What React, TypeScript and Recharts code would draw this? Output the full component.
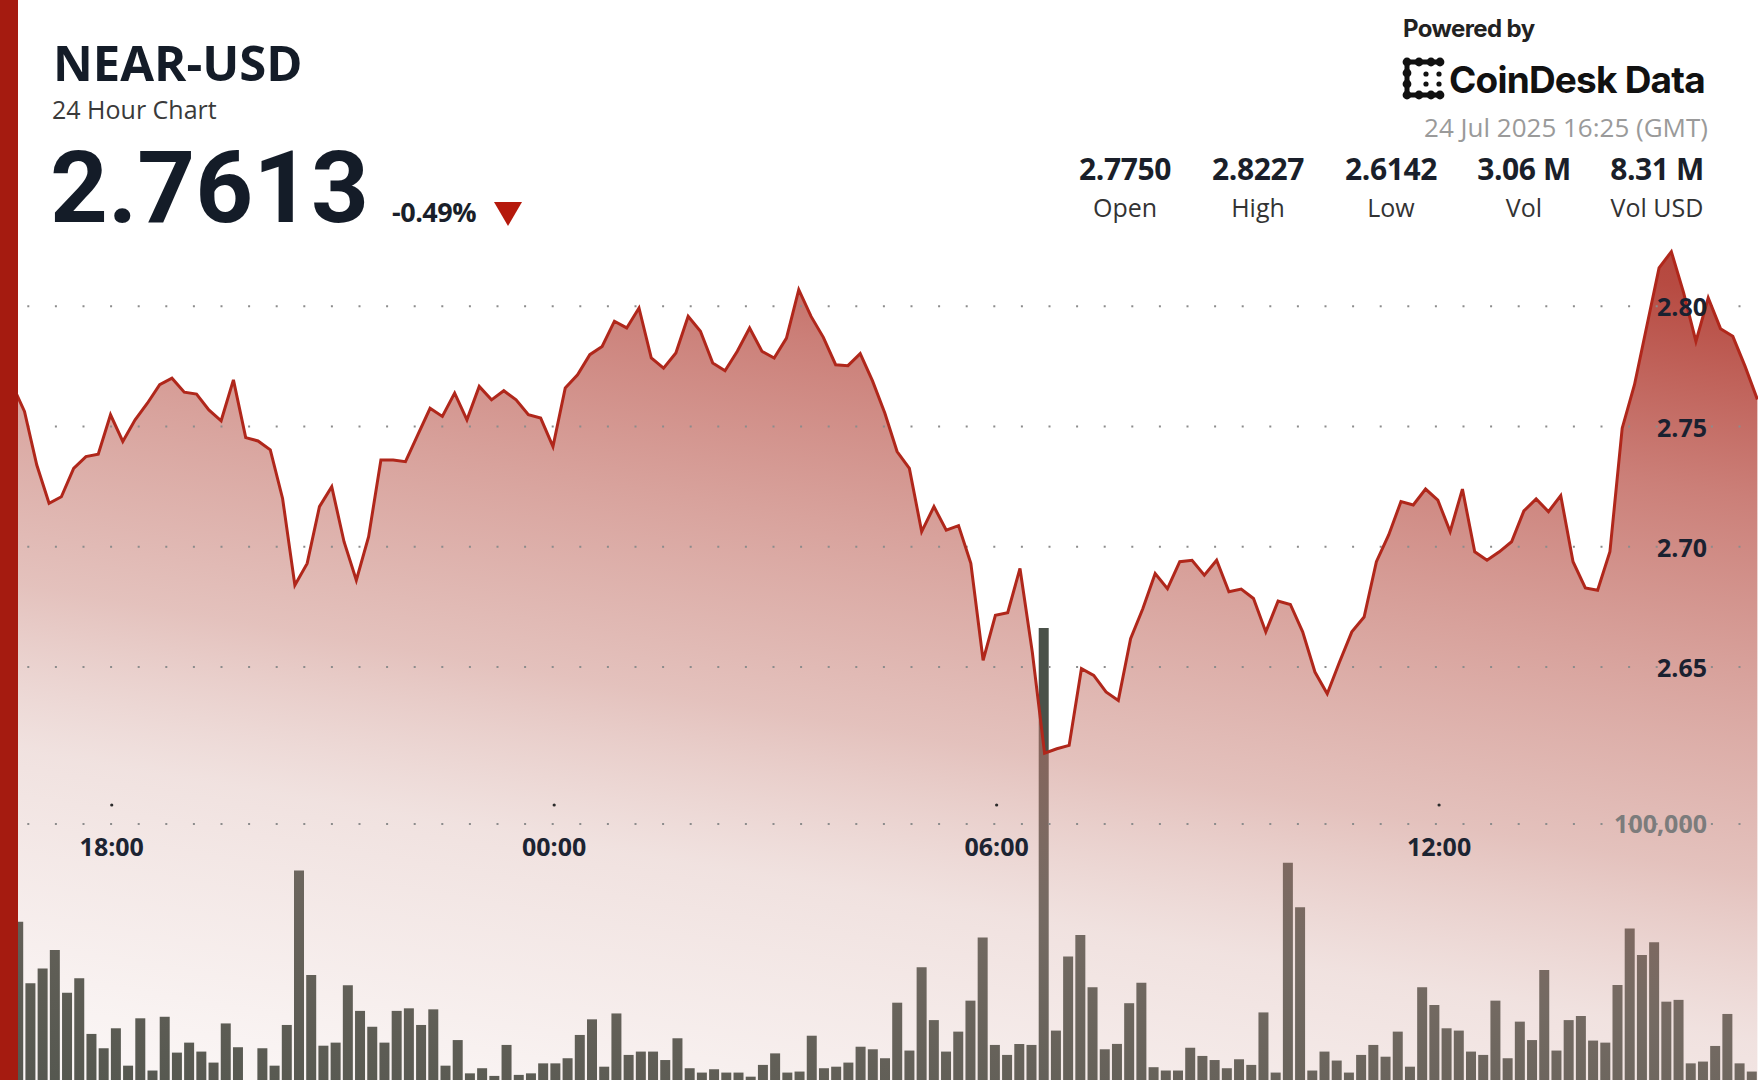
import React from 'react';
import { ComposedChart, BarChart, Bar, Area, Line, XAxis, YAxis, ReferenceLine } from 'recharts';

// 10-minute closes, first point sits just under the left red bar
const prices = [
  2.7674, 2.7563, 2.7340, 2.7181, 2.7208, 2.7326, 2.7375, 2.7385, 2.7549, 2.7438,
  2.7528, 2.7597, 2.7674, 2.7701, 2.7643, 2.7635, 2.7569, 2.7524, 2.7694, 2.7454,
  2.7440, 2.7403, 2.7201, 2.6840, 2.6931, 2.7167, 2.7250, 2.7021, 2.6861, 2.7042,
  2.7361, 2.7361, 2.7354, 2.7465, 2.7576, 2.7542, 2.7639, 2.7528, 2.7667, 2.7611,
  2.7649, 2.7611, 2.7549, 2.7535, 2.7417, 2.7660, 2.7715, 2.7799, 2.7833, 2.7938,
  2.7910, 2.7993, 2.7785, 2.7743, 2.7806, 2.7958, 2.7896, 2.7764, 2.7732, 2.7813,
  2.7910, 2.7813, 2.7785, 2.7868, 2.8069, 2.7958, 2.7871, 2.7757, 2.7753, 2.7803,
  2.7690, 2.7556, 2.7396, 2.7326, 2.7063, 2.7167, 2.7069, 2.7088, 2.6931, 2.6528,
  2.6715, 2.6726, 2.6910, 2.6563, 2.6142, 2.6160, 2.6174, 2.6493, 2.6465, 2.6396,
  2.6361, 2.6618, 2.6743, 2.6889, 2.6826, 2.6938, 2.6944, 2.6882, 2.6944, 2.6813,
  2.6824, 2.6785, 2.6646, 2.6774, 2.6760, 2.6646, 2.6479, 2.6389, 2.6521, 2.6646,
  2.6708, 2.6938, 2.7049, 2.7188, 2.7174, 2.7240, 2.7194, 2.7063, 2.7240, 2.6979,
  2.6944, 2.6979, 2.7021, 2.7149, 2.7199, 2.7146, 2.7213, 2.6938, 2.6829, 2.6819,
  2.6979, 2.7493, 2.7674, 2.7917, 2.8160, 2.8227, 2.8056, 2.7854, 2.8035, 2.7907,
  2.7875, 2.7750, 2.7613,
];

const volumes = [
  45000, 61800, 37800, 43600, 50800, 34100, 39700, 18000, 12400, 20200,
  5600, 24100, 3700, 24700, 10700, 14600, 11100, 6800, 22100, 12800,
  0, 12400, 5600, 21500, 81800, 41000, 13400, 14600, 37000, 27000,
  20800, 14600, 27000, 28000, 21500, 27600, 5600, 15600, 2600, 4600,
  1600, 13700, 2000, 2600, 6500, 6500, 8500, 17600, 23700, 5200,
  26000, 9800, 11100, 11100, 7800, 16300, 4600, 2900, 4200, 2900,
  2900, 1300, 5900, 10400, 2900, 3300, 17300, 4600, 5200, 6800,
  13000, 12000, 8500, 30200, 11500, 44000, 23400, 11100, 18900, 31000,
  55700, 13700, 9800, 14100, 13700, 176600, 19300, 48200, 56600, 36200,
  12000, 14100, 30000, 38000, 5000, 3700, 3700, 12600, 9400, 7800,
  4600, 8100, 5900, 26400, 2900, 84900, 67500, 3700, 11100, 7600,
  2900, 9800, 13700, 9100, 18900, 5200, 36200, 29300, 20200, 19300,
  11100, 9800, 31000, 8500, 22800, 15600, 43000, 11500, 23400, 25000,
  15400, 14600, 37100, 59200, 48800, 53800, 30600, 31300, 6500, 7200,
  13300, 25800, 6500, 3300,
];

const priceTicks = [2.65, 2.7, 2.75, 2.8];
const volumeTicks = [100000];
const timeTickPos = [7.1, 43.1, 79.1, 115.1];
const timeTickLabels = ['18:00', '00:00', '06:00', '12:00'];

const statValues = ['2.7750', '2.8227', '2.6142', '3.06 M', '8.31 M'];
const statLabels = ['Open', 'High', 'Low', 'Vol', 'Vol USD'];

const W = 1758;
const H = 1080;
const FONT = "'Open Sans', 'Noto Sans', sans-serif";
const BRAND = "Inter, Roboto, sans-serif";

const priceData = prices.map((p, i) => ({ k: i - 1, price: p }));
const volumeData = volumes.map((v, i) => ({ j: i, vol: v }));

const TimeTick = (props: any) => {
  const { x, index } = props;
  return (
    <g>
      <circle cx={x} cy={805} r={1.6} fill="#2b2b2b" />
      <text x={x} y={856} textAnchor="middle" fontFamily={FONT} fontSize={25} fontWeight={700} fill="#1c2432">
        {timeTickLabels[index]}
      </text>
    </g>
  );
};

const PriceTick = (props: any) => {
  const { y, payload } = props;
  return (
    <text x={1707} y={y + 10} textAnchor="end" fontFamily={FONT} fontSize={25} fontWeight={700} fill="#1a2130">
      {Number(payload.value).toFixed(2)}
    </text>
  );
};

const VolTick = (props: any) => {
  const { y, payload } = props;
  return (
    <text x={1707} y={y + 9} textAnchor="end" fontFamily={FONT} fontSize={25} fontWeight={700} fill="#7c7c7c">
      {Number(payload.value).toLocaleString('en-US')}
    </text>
  );
};

const LogoMark = () => (
  <g fill="#111">
    <rect x={1405} y={59.5} width={35} height={5} />
    <rect x={1405} y={92.5} width={35} height={5} />
    <rect x={1404.5} y={60} width={5} height={37} />
    {[1407, 1419, 1431, 1440].map((cx) => (
      <circle key={`t${cx}`} cx={cx} cy={62} r={4.4} />
    ))}
    {[1407, 1419, 1431, 1440].map((cx) => (
      <circle key={`b${cx}`} cx={cx} cy={95} r={4.4} />
    ))}
    {[73, 84].map((cy) => (
      <circle key={`l${cy}`} cx={1407} cy={cy} r={4.4} />
    ))}
    <circle cx={1426} cy={74} r={2.6} />
    <circle cx={1426} cy={84} r={2.6} />
    <circle cx={1439} cy={74} r={2.6} />
    <circle cx={1439} cy={84} r={2.6} />
  </g>
);

const Header = () => (
  <svg width={W} height={H} style={{ position: 'absolute', left: 0, top: 0, pointerEvents: 'none' }}>
    <text x={53} y={81} fontFamily={FONT} fontSize={49} fontWeight={700} fill="#141c28">NEAR-USD</text>
    <text x={52} y={119} fontFamily={FONT} fontSize={25} fill="#3a3a3a">24 Hour Chart</text>
    <text x={50} y={222} fontFamily="Roboto, 'Open Sans', sans-serif" fontSize={101} fontWeight={700} fill="#141c28">2.7613</text>
    <text x={392} y={222} fontFamily={FONT} fontSize={27} fontWeight={700} fill="#1a1f2a" letterSpacing={-0.5}>-0.49%</text>
    <polygon points="494,202 522,202 508,226" fill="#b5190c" />

    <text x={1403} y={37} fontFamily={BRAND} fontSize={24} fontWeight={700} fill="#222" letterSpacing={-0.6}>Powered by</text>
    <LogoMark />
    <text x={1449} y={93} fontFamily={BRAND} fontSize={37} fontWeight={700} fill="#111" letterSpacing={-0.8}>CoinDesk Data</text>
    <text x={1708} y={137} textAnchor="end" fontFamily={FONT} fontSize={26} fill="#9a9a9a">24 Jul 2025 16:25 (GMT)</text>

    {statValues.map((v, i) => (
      <text key={v} x={1125 + i * 133} y={180} textAnchor="middle" fontFamily={FONT} fontSize={30} fontWeight={700} fill="#1a1f2a" letterSpacing={-0.4}>
        {v}
      </text>
    ))}
    {statLabels.map((l, i) => (
      <text key={l} x={1125 + i * 133} y={217} textAnchor="middle" fontFamily={FONT} fontSize={25} fill="#333">
        {l}
      </text>
    ))}
  </svg>
);

export default function App() {
  return (
    <div style={{ position: 'relative', width: W, height: H, overflow: 'hidden', background: '#fff' }}>
      <style>{'body{margin:0}'}</style>

      <div style={{ position: 'absolute', left: 0, top: 0 }}>
        <BarChart width={W} height={H} data={volumeData} margin={{ top: 0, right: 0, bottom: 0, left: 0 }}>
          <XAxis dataKey="j" type="category" hide />
          <YAxis type="number" domain={[0, 421875]} allowDataOverflow hide />
          <Bar dataKey="vol" fill="#4a5149" barSize={10} isAnimationActive={false} />
        </BarChart>
      </div>

      <div style={{ position: 'absolute', left: 0, top: 0 }}>
        <ComposedChart width={W} height={H} data={priceData} margin={{ top: 0, right: 0, bottom: 0, left: 0 }}>
          <defs>
            <linearGradient id="nearFill" gradientUnits="userSpaceOnUse" x1="0" y1="1080" x2="182" y2="1">
              <stop offset="0" stopColor="#d0a19a" stopOpacity={0.08} />
              <stop offset="0.09" stopColor="#d0a19a" stopOpacity={0.14} />
              <stop offset="0.3" stopColor="#d0a19a" stopOpacity={0.31} />
              <stop offset="0.45" stopColor="#c57c72" stopOpacity={0.47} />
              <stop offset="0.63" stopColor="#be645a" stopOpacity={0.6} />
              <stop offset="0.79" stopColor="#b4463c" stopOpacity={0.69} />
              <stop offset="0.97" stopColor="#af372d" stopOpacity={0.9} />
              <stop offset="1" stopColor="#af372d" stopOpacity={0.92} />
            </linearGradient>
          </defs>
          <Area
            yAxisId="p"
            type="linear"
            dataKey="price"
            stroke="none"
            fill="url(#nearFill)"
            fillOpacity={1}
            isAnimationActive={false}
          />
          {priceTicks.map((t) => (
            <ReferenceLine key={t} yAxisId="p" y={t} stroke="#8c8c8c" strokeWidth={2} strokeDasharray="2 25.6" strokeDashoffset={-17.5} />
          ))}
          {volumeTicks.map((t) => (
            <ReferenceLine key={t} yAxisId="v" y={t} stroke="#8c8c8c" strokeWidth={2} strokeDasharray="2 25.6" strokeDashoffset={-17.5} />
          ))}
          <Line
            yAxisId="p"
            type="linear"
            dataKey="price"
            stroke="#b0271b"
            strokeWidth={3}
            dot={false}
            activeDot={false}
            isAnimationActive={false}
          />
          <XAxis
            dataKey="k"
            type="number"
            domain={[-1.993, 141.05]}
            allowDataOverflow
            ticks={timeTickPos}
            interval={0}
            mirror
            axisLine={false}
            tickLine={false}
            tick={<TimeTick />}
          />
          <YAxis
            yAxisId="p"
            orientation="right"
            type="number"
            domain={[2.47826, 2.92737]}
            allowDataOverflow
            ticks={priceTicks}
            interval={0}
            mirror
            axisLine={false}
            tickLine={false}
            tick={<PriceTick />}
          />
          <YAxis
            yAxisId="v"
            orientation="right"
            type="number"
            domain={[0, 421875]}
            allowDataOverflow
            ticks={volumeTicks}
            interval={0}
            mirror
            axisLine={false}
            tickLine={false}
            tick={<VolTick />}
          />
        </ComposedChart>
      </div>

      <Header />
      <div style={{ position: 'absolute', left: 0, top: 0, width: 18, height: H, background: '#a51b10' }} />
    </div>
  );
}
